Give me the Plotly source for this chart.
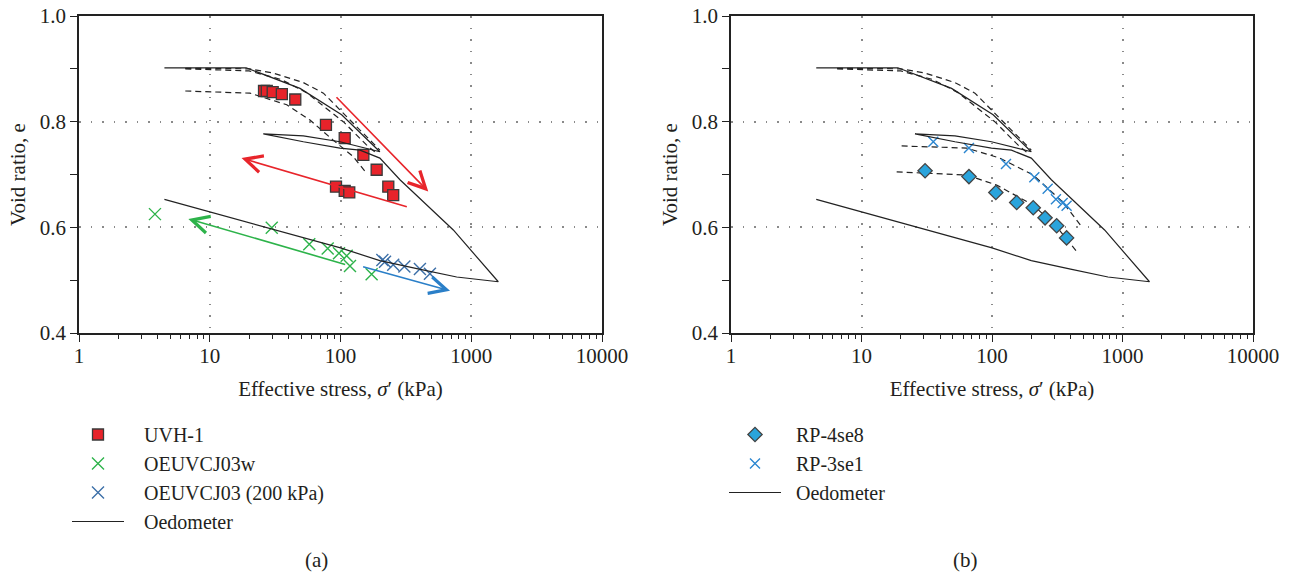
import math
import plotly.graph_objects as go

# ---------------- data ----------------
# Oedometer curve (shared by both panels)
oed_stress = [4.5, 19, 49, 102, 200, 99, 52, 25.7, 52, 99, 141, 200, 285, 729, 1610, 774, 400, 200, 100, 10, 4.5]
oed_e = [0.902, 0.902, 0.863, 0.813, 0.743, 0.762, 0.773, 0.777, 0.762, 0.750, 0.746, 0.731, 0.690, 0.595, 0.497,
         0.506, 0.521, 0.537, 0.561, 0.630, 0.653]

# model (dashed) curves near the virgin line (both panels)
model_u1_stress = [6.5, 20, 30.6, 52, 74, 93.5, 125, 178, 200]
model_u1_e = [0.901, 0.900, 0.892, 0.874, 0.854, 0.828, 0.797, 0.759, 0.746]
model_u2_stress = [6.5, 20, 35, 55, 78, 105, 158, 185]
model_u2_e = [0.900, 0.896, 0.880, 0.855, 0.825, 0.800, 0.756, 0.742]

# panel (a)
model_uvh_stress = [6.5, 20.3, 38.8, 58.4, 88, 125, 158.6]
model_uvh_e = [0.858, 0.854, 0.832, 0.803, 0.765, 0.734, 0.702]

uvh_stress = [26, 27.3, 30.3, 35.6, 45.1, 77.4, 107.7, 149.6, 189, 232, 253, 92.4, 107.7, 116.7]
uvh_e = [0.858, 0.858, 0.856, 0.852, 0.842, 0.794, 0.769, 0.737, 0.709, 0.677, 0.661, 0.677, 0.669, 0.666]

oew_stress = [3.81, 29.8, 57.7, 79.8, 97.4, 111.5, 118.2, 173]
oew_e = [0.625, 0.599, 0.568, 0.560, 0.551, 0.546, 0.527, 0.511]

oe200_stress = [209, 219, 253, 308, 405, 483]
oe200_e = [0.538, 0.535, 0.529, 0.526, 0.521, 0.512]

# arrows in panel (a)
arrow_start_stress = [90.8, 330, 111.5, 145]
arrow_start_e = [0.849, 0.638, 0.529, 0.526]
arrow_end_stress = [469, 17.5, 6.86, 688]
arrow_end_e = [0.668, 0.731, 0.616, 0.480]
arrow_colors = ["#e8252b", "#e8252b", "#2db34a", "#2a7fc8"]

# panel (b)
rp4_stress = [30.7, 66.6, 107, 154.6, 207, 255, 313, 373]
rp4_e = [0.707, 0.696, 0.666, 0.647, 0.637, 0.618, 0.603, 0.580]
rp3_stress = [35.5, 66.6, 128, 211, 267, 309, 348, 373]
rp3_e = [0.762, 0.750, 0.720, 0.695, 0.673, 0.653, 0.646, 0.641]

model_rp3_stress = [20.3, 64, 115, 207, 348, 487]
model_rp3_e = [0.754, 0.750, 0.731, 0.699, 0.648, 0.601]
model_rp4_stress = [18.6, 64, 108.6, 173.7, 207, 313, 446]
model_rp4_e = [0.705, 0.699, 0.680, 0.652, 0.642, 0.601, 0.554]

x_tick_vals = [1, 10, 100, 1000, 10000]
x_tick_text = ["1", "10", "100", "1000", "10000"]
y_tick_vals = [0.4, 0.6, 0.8, 1.0]
y_tick_text = ["0.4", "0.6", "0.8", "1.0"]
y_minor_vals = [0.5, 0.7, 0.9]

# ---------------- figure ----------------
FONT = "Liberation Serif"
FS = 21
LFS = 20
TXT = "#231f20"
W, H = 1291, 572
PL, PR, PT, PB = 79, 1253, 16, 333          # page-pixel plot frame
ML, MR, MT, MB = PL, W - PR, PT, H - PB
PW, PH = W - ML - MR, H - MT - MB


def px_x(p):
    return (p - PL) / PW


def px_y(p):
    return (PB - p) / PH


fig = go.Figure()

dash_style = dict(color="#222", width=1.2, dash="6px,4px")
solid_style = dict(color="#222", width=1.2)


def add_common(xa, ya):
    fig.add_trace(go.Scatter(x=model_u1_stress, y=model_u1_e, mode="lines", line=dash_style,
                             xaxis=xa, yaxis=ya, showlegend=False, hoverinfo="skip"))
    fig.add_trace(go.Scatter(x=model_u2_stress, y=model_u2_e, mode="lines", line=dash_style,
                             xaxis=xa, yaxis=ya, showlegend=False, hoverinfo="skip"))


SP1 = "\u00a0\u00a0\u00a0"
SP2 = "\u00a0\u00a0"

# panel (a)
add_common("x", "y")
fig.add_trace(go.Scatter(x=model_uvh_stress, y=model_uvh_e, mode="lines", line=dash_style,
                         xaxis="x", yaxis="y", showlegend=False))
fig.add_trace(go.Scatter(x=uvh_stress, y=uvh_e, mode="markers", name=SP1 + "UVH-1",
                         marker=dict(symbol="square", size=11, color="#e8232a",
                                     line=dict(color="#3a3a3a", width=1.3)),
                         xaxis="x", yaxis="y", legend="legend", legendgroup="a1"))
fig.add_trace(go.Scatter(x=oew_stress, y=oew_e, mode="markers", name=SP1 + "OEUVCJ03w",
                         marker=dict(symbol="x-thin", size=12, line=dict(color="#2db34a", width=1.4)),
                         xaxis="x", yaxis="y", legend="legend", legendgroup="a2"))
fig.add_trace(go.Scatter(x=oe200_stress, y=oe200_e, mode="markers", name=SP1 + "OEUVCJ03 (200 kPa)",
                         marker=dict(symbol="x-thin", size=12, line=dict(color="#3c6fa8", width=1.4)),
                         xaxis="x", yaxis="y", legend="legend", legendgroup="a3"))
fig.add_trace(go.Scatter(x=oed_stress, y=oed_e, mode="lines", name=SP1 + "Oedometer", line=solid_style,
                         xaxis="x", yaxis="y", legend="legend", legendgroup="a4"))

# panel (b)
add_common("x2", "y2")
fig.add_trace(go.Scatter(x=model_rp3_stress, y=model_rp3_e, mode="lines", line=dash_style,
                         xaxis="x2", yaxis="y2", showlegend=False))
fig.add_trace(go.Scatter(x=model_rp4_stress, y=model_rp4_e, mode="lines", line=dash_style,
                         xaxis="x2", yaxis="y2", showlegend=False))
fig.add_trace(go.Scatter(x=rp4_stress, y=rp4_e, mode="markers", name=SP2 + "RP-4se8",
                         marker=dict(symbol="diamond", size=11, color="#2aa4dc",
                                     line=dict(color="#444", width=1.3)),
                         xaxis="x2", yaxis="y2", legend="legend2", legendgroup="b1"))
fig.add_trace(go.Scatter(x=rp3_stress, y=rp3_e, mode="markers", name=SP2 + "RP-3se1",
                         marker=dict(symbol="x-thin", size=10, line=dict(color="#2b86d0", width=1.4)),
                         xaxis="x2", yaxis="y2", legend="legend2", legendgroup="b2"))
fig.add_trace(go.Scatter(x=oed_stress, y=oed_e, mode="lines", name=SP2 + "Oedometer", line=solid_style,
                         xaxis="x2", yaxis="y2", legend="legend2", legendgroup="b3"))

# arrows
for sx, sy, ex, ey, c in zip(arrow_start_stress, arrow_start_e, arrow_end_stress, arrow_end_e, arrow_colors):
    fig.add_annotation(x=math.log10(ex), y=ey, ax=math.log10(sx), ay=sy, xref="x", yref="y",
                       axref="x", ayref="y", showarrow=True, arrowhead=5, arrowsize=2.1,
                       arrowwidth=1.6, arrowcolor=c, text="")

minor_x = [m * 10 ** d for d in range(4) for m in range(2, 10)]


def xaxis_def(domain, anchor):
    return dict(type="log", range=[0, 4], domain=domain, anchor=anchor, automargin=False,
                tickvals=x_tick_vals, ticktext=x_tick_text, ticks="outside", ticklen=7,
                tickwidth=1.3, tickcolor="#222", ticklabelstandoff=-4, ticklabeloverflow="allow",
                minor=dict(tickvals=minor_x, ticks="outside", ticklen=4, tickwidth=1.1,
                           tickcolor="#222", showgrid=False),
                showline=True, mirror=True, linecolor="#222", linewidth=1.5,
                showgrid=True, gridcolor="#8a8a8a", griddash="1.5px,10px", gridwidth=1.5,
                zeroline=False,
                title=dict(text="Effective stress, <i>σ</i>′ (kPa)", standoff=14,
                           font=dict(family=FONT, size=FS, color=TXT)),
                tickfont=dict(family=FONT, size=FS, color=TXT))


def yaxis_def(domain, anchor):
    return dict(range=[0.4, 1.0], domain=domain, anchor=anchor, automargin=False,
                tickvals=y_tick_vals, ticktext=y_tick_text, ticks="outside", ticklen=7,
                tickwidth=1.3, tickcolor="#222", ticklabeloverflow="allow",
                minor=dict(tickvals=y_minor_vals, ticks="outside", ticklen=7, tickwidth=1.3,
                           tickcolor="#222", showgrid=False),
                showline=True, mirror=True, linecolor="#222", linewidth=1.5,
                showgrid=True, gridcolor="#8a8a8a", griddash="1.5px,10px", gridwidth=1.5,
                zeroline=False,
                title=dict(text="Void ratio, e", standoff=8,
                           font=dict(family=FONT, size=FS, color=TXT)),
                tickfont=dict(family=FONT, size=FS, color=TXT))


fig.update_layout(
    width=W, height=H, margin=dict(l=ML, r=MR, t=MT, b=MB),
    paper_bgcolor="white", plot_bgcolor="white",
    font=dict(family=FONT, size=FS, color=TXT),
    xaxis=xaxis_def([0, px_x(602)], "y"),
    yaxis=yaxis_def([0, 1], "x"),
    xaxis2=xaxis_def([px_x(731), 1], "y2"),
    yaxis2=yaxis_def([0, 1], "x2"),
    legend=dict(x=px_x(67), y=px_y(415), xanchor="left", yanchor="top", bgcolor="rgba(0,0,0,0)",
                itemwidth=52, traceorder="grouped", tracegroupgap=0,
                font=dict(family=FONT, size=LFS, color=TXT)),
    legend2=dict(x=px_x(724), y=px_y(415), xanchor="left", yanchor="top", bgcolor="rgba(0,0,0,0)",
                 itemwidth=52, traceorder="grouped", tracegroupgap=0,
                 font=dict(family=FONT, size=LFS, color=TXT)),
    showlegend=True,
)

fig.add_annotation(text="(a)", x=px_x(316), y=px_y(560), xref="paper", yref="paper",
                   xanchor="center", yanchor="middle",
                   showarrow=False, font=dict(family=FONT, size=FS, color=TXT))
fig.add_annotation(text="(b)", x=px_x(965), y=px_y(560), xref="paper", yref="paper",
                   xanchor="center", yanchor="middle",
                   showarrow=False, font=dict(family=FONT, size=FS, color=TXT))

fig.write_html("out.html", config={"displayModeBar": False},
               post_script="document.body.style.margin='0px';")
